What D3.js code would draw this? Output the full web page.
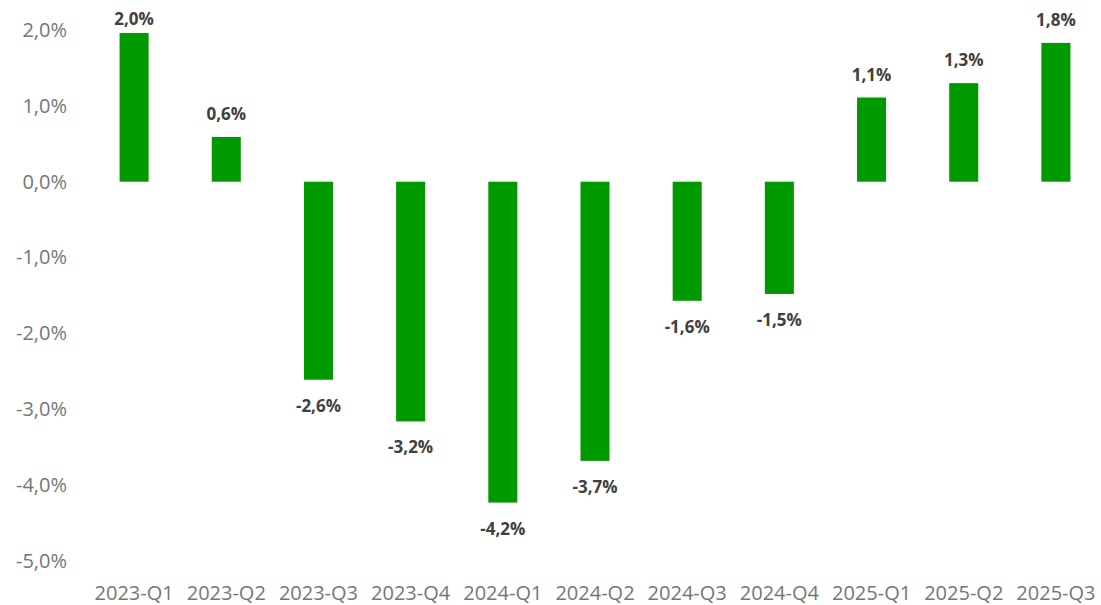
<html lang="en">
<head>
  <meta charset="UTF-8">
  <title>Quarterly change</title>
  <script src="https://d3js.org/d3.v7.min.js"></script>
  <style>
    body { margin: 0; background: #fff; }
    text { font-family: "Open Sans", "Liberation Sans", sans-serif; }
  </style>
</head>
<body>
<div id="chart"></div>
<script>
// quarters and their % change
const quarters = ["2023-Q1", "2023-Q2", "2023-Q3", "2023-Q4", "2024-Q1", "2024-Q2",
                  "2024-Q3", "2024-Q4", "2025-Q1", "2025-Q2", "2025-Q3"];
const values = [1.96, 0.59, -2.61, -3.16, -4.23, -3.68, -1.57, -1.48, 1.11, 1.30, 1.83];
const yTicks = [2, 1, 0, -1, -2, -3, -4, -5];

const width = 1101, height = 605;

const locale = d3.formatLocale({ decimal: ",", thousands: ".", grouping: [3], currency: ["", "€"], minus: "-" });
const fmt = locale.format(".1f");

const svg = d3.select("#chart")
  .append("svg")
  .attr("width", width)
  .attr("height", height);

const x = d3.scaleBand()
  .domain(quarters)
  .range([88, 1102])
  .paddingInner(0.685)
  .paddingOuter(0.3425);

const y = d3.scaleLinear()
  .domain([-5, 2])
  .range([561, 30]);

// y axis labels
const yAxis = d3.axisLeft(y)
  .tickValues(yTicks)
  .tickSize(0)
  .tickPadding(0)
  .tickFormat(d => fmt(d) + "%");

svg.append("g")
  .attr("transform", "translate(67,0)")
  .call(yAxis)
  .call(g => g.select(".domain").remove())
  .selectAll("text")
  .attr("fill", "#767676")
  .style("font-size", "20px");

// x axis labels
const xAxis = d3.axisBottom(x).tickSize(0).tickPadding(0);

svg.append("g")
  .attr("transform", "translate(0,600)")
  .call(xAxis)
  .call(g => g.select(".domain").remove())
  .selectAll("text")
  .attr("y", 0)
  .attr("dy", 0)
  .attr("fill", "#767676")
  .style("font-size", "20px");

// bars
svg.append("g")
  .selectAll("rect")
  .data(values)
  .join("rect")
  .attr("x", (d, i) => x(quarters[i]))
  .attr("width", x.bandwidth())
  .attr("y", d => y(Math.max(0, d)))
  .attr("height", d => Math.abs(y(d) - y(0)))
  .attr("fill", "#009900");

// value labels (top one is pushed down to stay inside, like the original)
svg.append("g")
  .selectAll("text")
  .data(values)
  .join("text")
  .attr("x", (d, i) => x(quarters[i]) + x.bandwidth() / 2)
  .attr("y", d => d >= 0 ? Math.max(y(d) - 17, 25) : y(d) + 32)
  .attr("text-anchor", "middle")
  .attr("fill", "#404040")
  .style("font-size", "17px")
  .style("font-weight", "bold")
  .text(d => fmt(d) + "%");
</script>
</body>
</html>
